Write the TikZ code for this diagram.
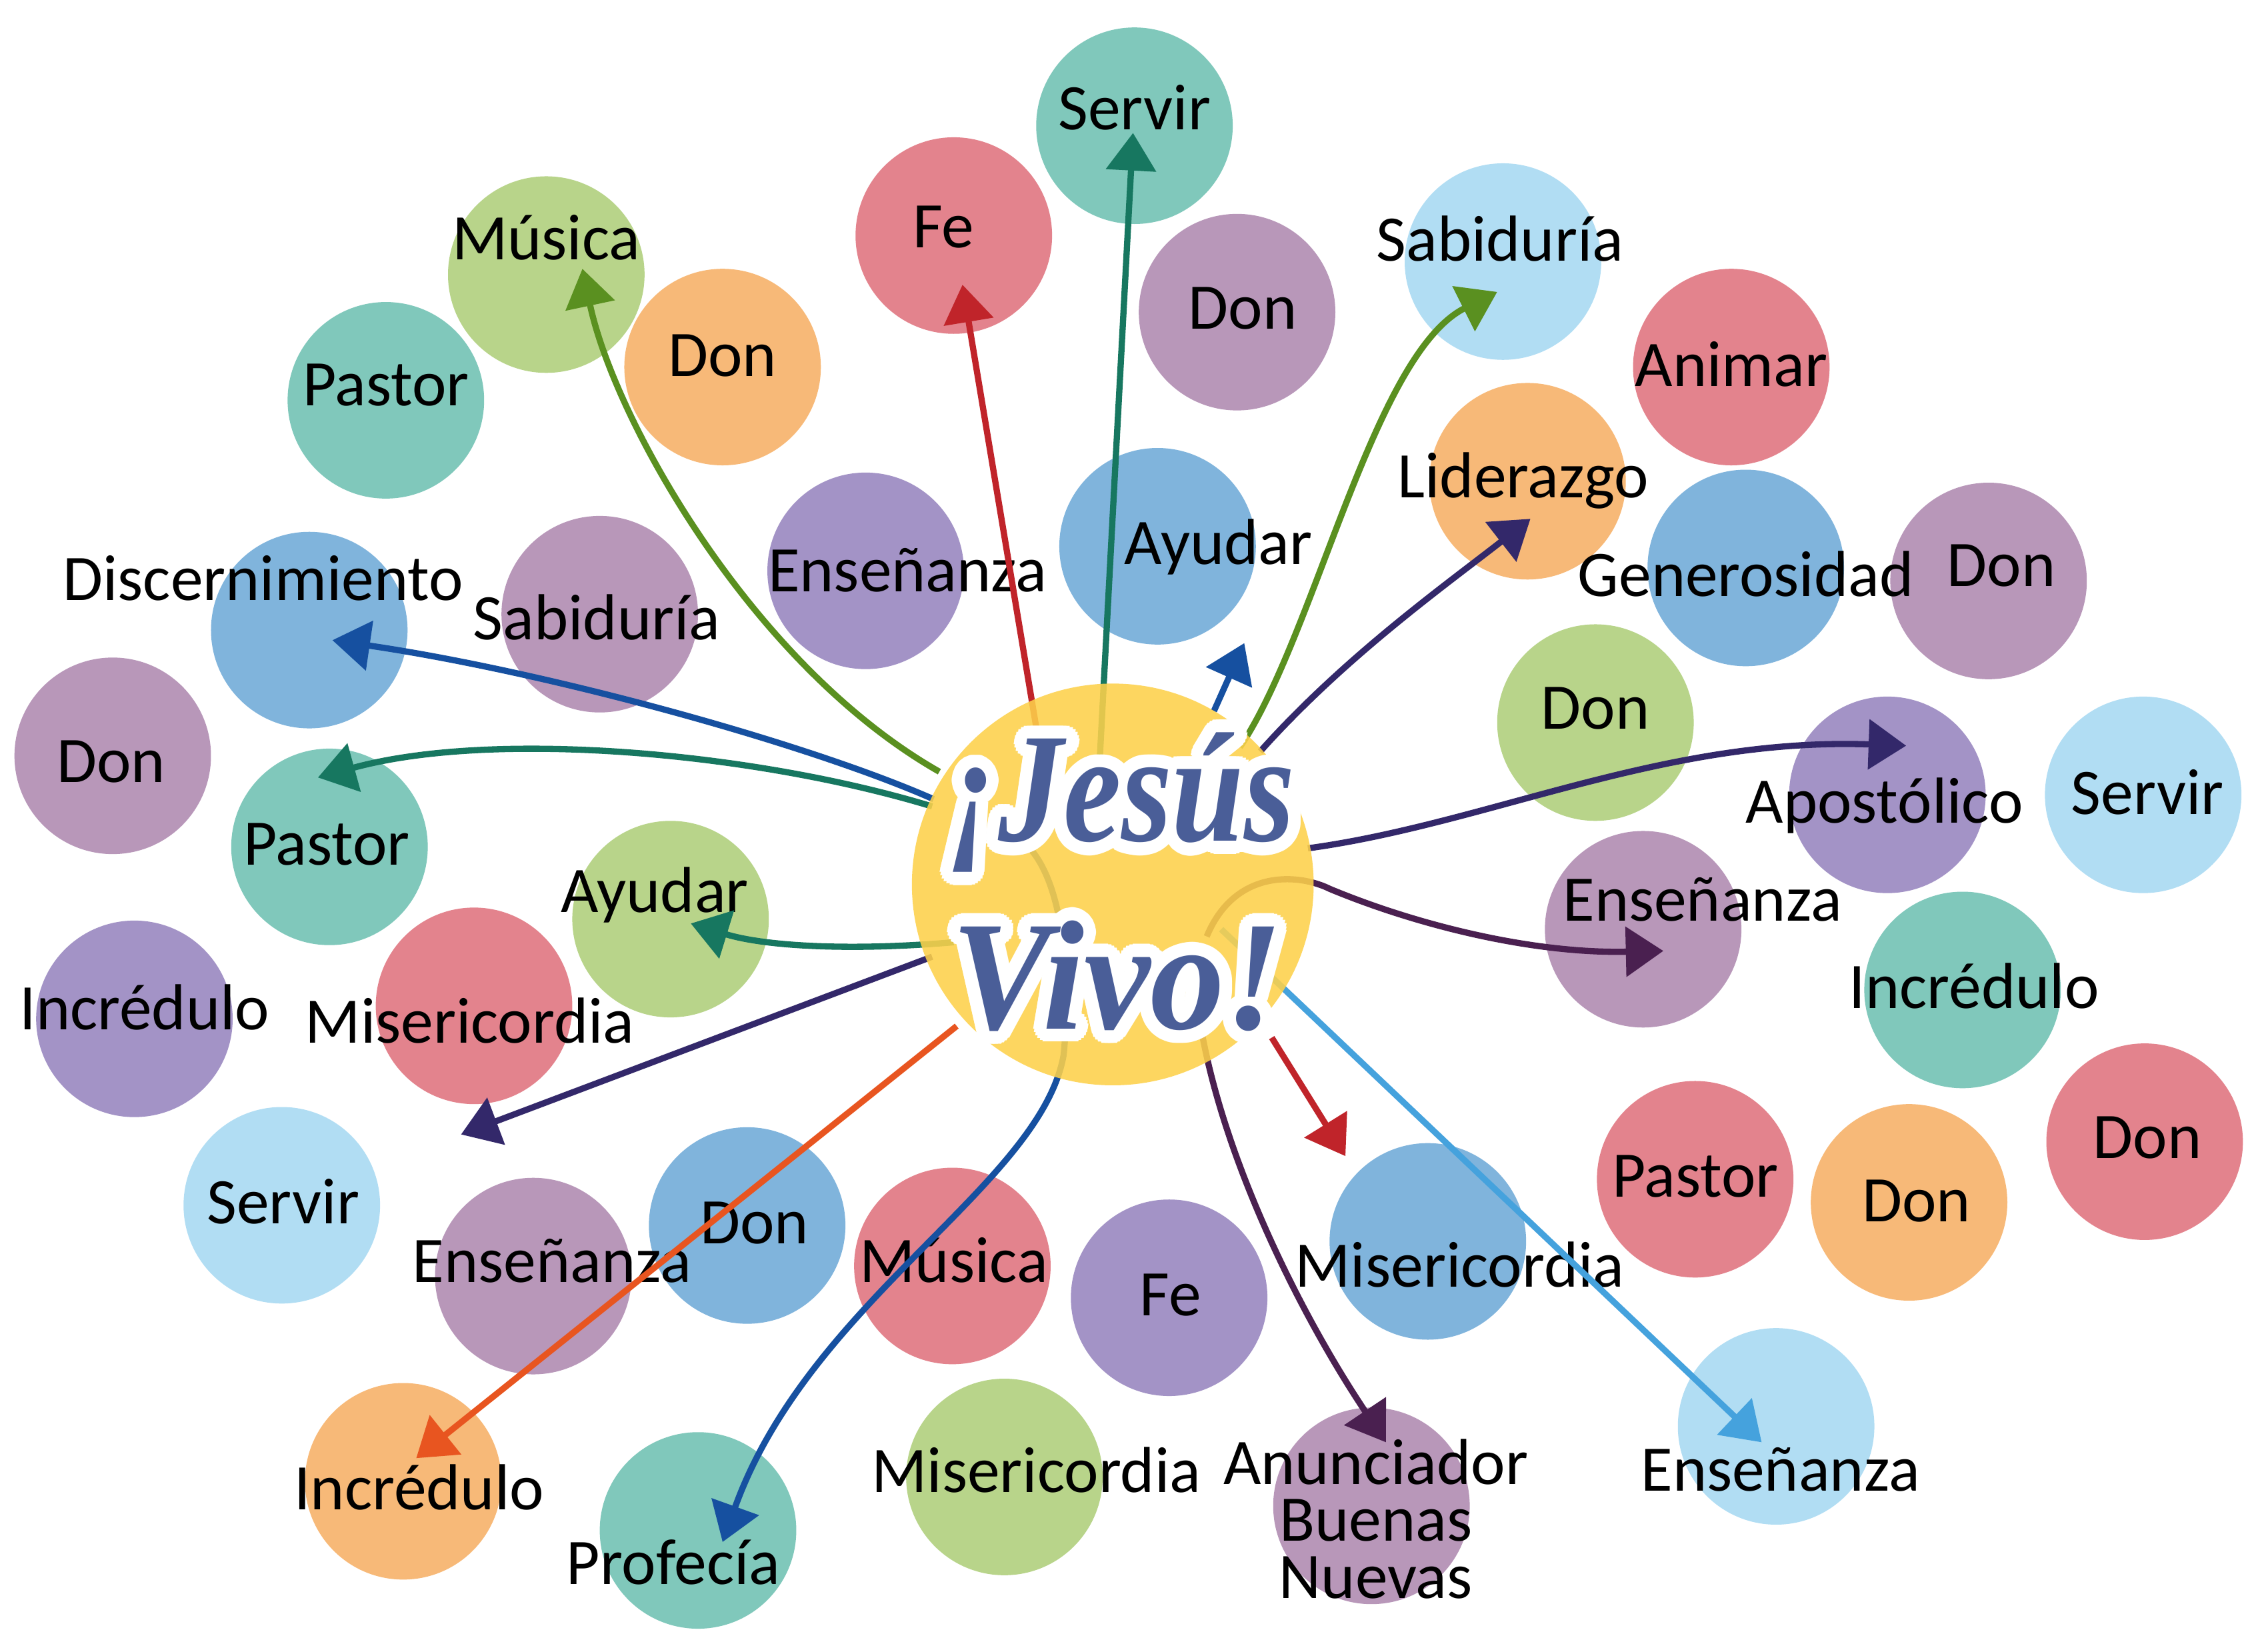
\documentclass[tikz,border=0pt]{standalone}
\usepackage{fontspec}
\setmainfont{Carlito}
\newfontfamily\titlefont{Liberation Serif}
\usetikzlibrary{arrows.meta,calc}
\definecolor{cteal}{HTML}{80C8BB}
\definecolor{cpink}{HTML}{E3838D}
\definecolor{cmauve}{HTML}{B897B9}
\definecolor{cviolet}{HTML}{A393C6}
\definecolor{cblue}{HTML}{80B4DC}
\definecolor{clblue}{HTML}{B1DDF3}
\definecolor{cgreen}{HTML}{B8D48A}
\definecolor{corange}{HTML}{F7B978}
\definecolor{sun}{HTML}{FDD14B}
\definecolor{titleblue}{HTML}{4A5E98}
\definecolor{agreen}{HTML}{5A9020}
\definecolor{ared}{HTML}{C0242A}
\definecolor{ateal}{HTML}{177760}
\definecolor{ablue}{HTML}{1650A0}
\definecolor{apurple}{HTML}{33286A}
\definecolor{aplum}{HTML}{4A2050}
\definecolor{aorange}{HTML}{E85520}
\definecolor{alblue}{HTML}{45A2DD}
\begin{document}
\begin{tikzpicture}[x=1pt,y=-1pt,
  bubble/.style={circle,minimum size=136pt,inner sep=0pt,draw=none},
  lblfont/.style={font=\fontsize{45}{39.5}\selectfont,inner sep=0pt},
  lbl/.style={lblfont,text height=29pt,text depth=0pt},
  conn/.style={line width=4.3pt,-{Triangle[length=26pt,width=34pt]}},
  ttl/.style={font=\titlefont\bfseries\itshape\fontsize{108}{110}\selectfont,anchor=base,inner sep=0pt}
]
\useasboundingbox (0,0) rectangle (1568,1143);
\fill[white] (0,0) rectangle (1568,1143);
% bubbles
\foreach \n/\x/\y/\c in {
 1/785/87/cteal, 2/660/163/cpink, 3/378/190/cgreen, 4/500/254/corange,
 5/267/277/cteal, 6/856/216/cmauve, 7/1040/181/clblue, 8/1198/254/cpink,
 9/1057/333/corange, 10/1208/393/cblue, 11/1376/402/cmauve, 12/801/378/cblue,
 13/599/395/cviolet, 14/415/425/cmauve, 15/214/436/cblue, 16/78/523/cmauve,
 17/228/586/cteal, 18/1104/500/cgreen, 19/1306/550/cviolet, 20/1483/550/clblue,
 21/464/636/cgreen, 22/328/696/cpink, 23/93/705/cviolet, 24/1137/643/cmauve,
 25/1358/685/cteal, 26/195/834/clblue, 27/369/883/cmauve, 28/517/848/cblue,
 29/659/876/cpink, 30/809/898/cviolet, 31/988/859/cblue, 32/1173/816/cpink,
 33/1321/832/corange, 34/1484/790/cpink, 35/279/1025/corange, 36/483/1059/cteal,
 37/695/1022/cgreen, 38/949/1042/cmauve, 39/1229/987/clblue}
 \node[bubble,fill=\c] (c\n) at (\x,\y) {};
% labels
\foreach \n/\x/\y/\t in {
 1/785/75/Servir, 2/653/157/Fe, 3/378/165/Música, 4/500/246/Don,
 5/267/266/Pastor, 6/860/213/Don, 7/1038/166/Sabiduría, 8/1198/253/Animar,
 9/1054/330/Liderazgo, 10/1208/398/Generosidad, 11/1385/391/Don, 12/843/376/Ayudar,
 13/628/395/Enseñanza, 14/413/428/Sabiduría, 15/182/401/Discernimiento, 16/77/527/Don,
 17/226/584/Pastor, 18/1104/490/Don, 19/1304/555/Apostólico, 20/1486/549/Servir,
 21/453/617/Ayudar, 22/325/707/Misericordia, 23/100/698/Incrédulo, 24/1178/623/Enseñanza,
 25/1366/683/Incrédulo, 26/196/832/Servir, 27/382/873/Enseñanza, 28/522/846/Don,
 29/660/873/Música, 30/810/896/Fe, 31/1010/876/Misericordia, 32/1173/814/Pastor,
 33/1326/831/Don, 34/1486/787/Don, 35/290/1030/Incrédulo, 36/466/1082/Profecía,
 37/717/1018/Misericordia, 39/1232/1017/Enseñanza}
 \node[lbl] (l\n) at (\x,\y) {\t};
\node[lblfont,align=center,anchor=base] (l38) at (952,1106) {Anunciador\\Buenas\\Nuevas};
% connector ends
\coordinate (sMus) at (650,534);  \coordinate (tMus) at (403,186);
\coordinate (sFe) at (724,545);   \coordinate (tFe) at (666,197);
\coordinate (sSer) at (761,525);  \coordinate (tSer) at (784,92);
\coordinate (sAyu) at (840,492);  \coordinate (tAyu) at (861,445);
\coordinate (sSab) at (858,517);  \coordinate (tSab) at (1036,202);
\coordinate (sLid) at (872,520);  \coordinate (tLid) at (1059,359);
\coordinate (sApo) at (905,587);  \coordinate (tApo) at (1319,516);
\coordinate (sEnR) at (835,648);  \coordinate (mEnR) at (920,615); \coordinate (tEnR) at (1151,658);
\coordinate (sEnB) at (845,643);  \coordinate (tEnB) at (1219,998);
\coordinate (sMis) at (880,718);  \coordinate (tMis) at (931,800);
\coordinate (sAnu) at (830,705);  \coordinate (tAnu) at (959,998);
\coordinate (sPro) at (705,580);  \coordinate (mPro) at (736,730); \coordinate (tPro) at (500,1067);
\coordinate (sInc) at (662,710);  \coordinate (tInc) at (288,1009);
\coordinate (sEnL) at (645,662);  \coordinate (tEnL) at (319,785);
\coordinate (sAyL) at (660,652);  \coordinate (tAyL) at (478,639);
\coordinate (sPas) at (645,558);  \coordinate (tPas) at (220,538);
\coordinate (sDis) at (646,553);  \coordinate (tDis) at (230,443);
% connectors
\draw[conn,agreen] (sMus) .. controls (520,460) and (425,290) .. (tMus);
\draw[conn,ared] (sFe) -- (tFe);
\draw[conn,ateal] (sSer) -- (tSer);
\draw[conn,ablue] (sAyu) -- (tAyu);
\draw[conn,agreen] (sSab) .. controls (910,440) and (950,245) .. (tSab);
\draw[conn,apurple] (sLid) .. controls (930,455) and (1000,405) .. (tLid);
\draw[conn,apurple] (sApo) .. controls (1030,570) and (1150,510) .. (tApo);
\draw[conn,aplum] (sEnR) .. controls (855,600) and (900,605) .. (mEnR) .. controls (980,640) and (1060,660) .. (tEnR);
\draw[conn,alblue] (sEnB) -- (tEnB);
\draw[conn,ared] (sMis) -- (tMis);
\draw[conn,aplum] (sAnu) .. controls (845,800) and (900,910) .. (tAnu);
\draw[conn,ablue] (sPro) .. controls (740,605) and (740,690) .. (mPro) .. controls (720,820) and (560,900) .. (tPro);
\draw[conn,aorange] (sInc) -- (tInc);
\draw[conn,apurple] (sEnL) -- (tEnL);
\draw[conn,ateal] (sAyL) .. controls (590,658) and (530,655) .. (tAyL);
\draw[conn,ateal] (sPas) .. controls (520,520) and (340,505) .. (tPas);
\draw[conn,ablue] (sDis) .. controls (560,515) and (380,465) .. (tDis);
% sun
\node[circle,fill=sun,fill opacity=0.88,minimum size=278pt,inner sep=0pt] (sunc) at (770,612) {};
% title with white outline
\coordinate (jes) at (776,582);
\coordinate (viv) at (773,712);
\foreach \a in {0,15,...,345} {
  \node[ttl,text=white] (oj\a) at ($(jes)+(\a:9)$) {\scalebox{0.833}[1]{¡Jesús}};
  \node[ttl,text=white] (ov\a) at ($(viv)+(\a:9)$) {\scalebox{0.955}[1]{Vivo!}};
}
\node[ttl,text=titleblue] (tj) at (jes) {\scalebox{0.833}[1]{¡Jesús}};
\node[ttl,text=titleblue] (tv) at (viv) {\scalebox{0.955}[1]{Vivo!}};
\end{tikzpicture}
\end{document}
